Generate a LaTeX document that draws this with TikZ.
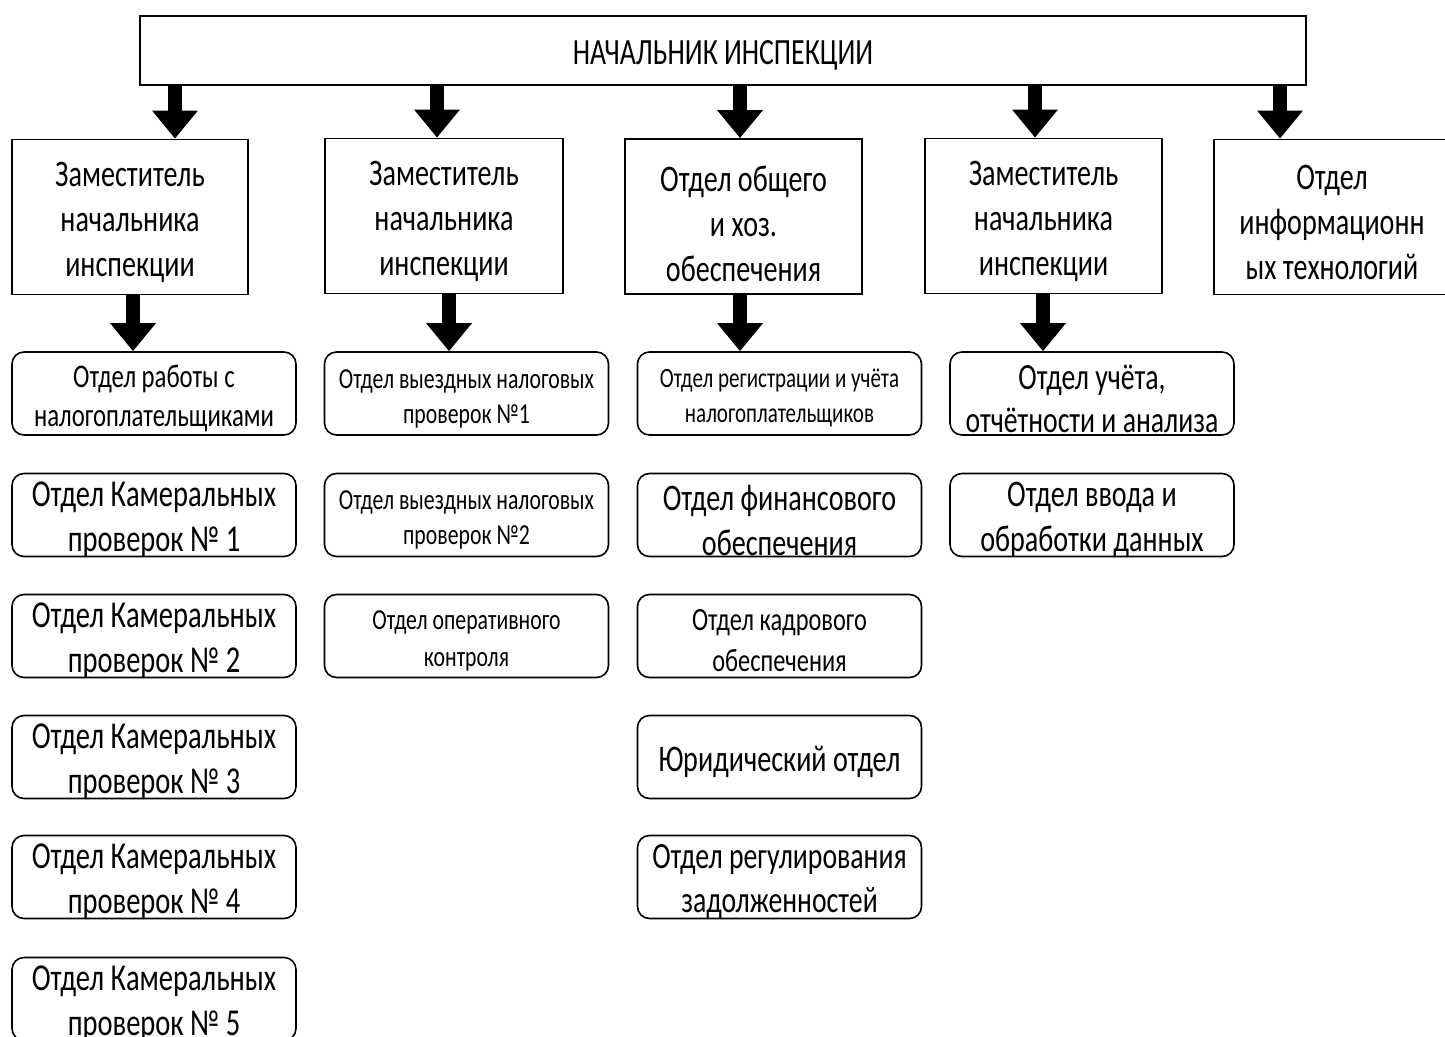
\documentclass[tikz,border=0pt]{standalone}
\usepackage{fontspec}
\setmainfont[FakeStretch=0.75]{Carlito}
\usetikzlibrary{arrows.meta}
\newcommand\fsz[2]{\fontsize{#1}{#2}\selectfont}
\begin{document}
\begin{tikzpicture}[x=1pt,y=-1pt,
  sq/.style={draw, line width=1.8pt, rectangle, inner sep=0pt, minimum width=237pt, minimum height=155pt},
  rbox/.style={draw, line width=1.6pt, rounded corners=12pt, inner sep=0pt, minimum width=284pt, minimum height=83pt},
  txt/.style={align=center, inner sep=0pt, yshift=-5pt},
  bigarrow/.style={line width=14pt, -{Triangle[width=44pt,length=28pt]}},
]
\useasboundingbox (0,0) rectangle (1445,1036);
\clip (0,0) rectangle (1445,1036);

% top
\node[draw, line width=1.8pt, minimum width=1166pt, minimum height=69pt, inner sep=0pt] (top) at (723,50.5) {};
\node[txt, font=\fsz{37}{45}] (toptxt) at (723,50) {НАЧАЛЬНИК ИНСПЕКЦИИ};

% row 2
\node[sq, minimum width=236pt] (b1) at (130,217) {};
\node[sq, minimum width=238pt] (b2) at (444,216) {};
\node[sq] (b3) at (743.5,216.5) {};
\node[sq] (b4) at (1043.5,216) {};
\node[sq, minimum width=236pt] (b5) at (1332,217) {};

\node[txt, font=\fsz{37.5}{45}] (t1) at (b1.center) {Заместитель\\начальника\\инспекции};
\node[txt, font=\fsz{37.5}{45}] (t2) at (b2.center) {Заместитель\\начальника\\инспекции};
\node[txt, font=\fsz{37.5}{45}, yshift=-2pt] (t3) at (b3.center) {Отдел общего\\и хоз.\\обеспечения};
\node[txt, font=\fsz{37.5}{45}] (t4) at (b4.center) {Заместитель\\начальника\\инспекции};
\node[txt, font=\fsz{37.5}{45}] (t5) at (b5.center) {Отдел\\информационн\\ых технологий};

% row 3 boxes
\node[rbox] (a1) at (154,393.5) {};
\node[rbox] (a2) at (154,515) {};
\node[rbox] (a3) at (154,636) {};
\node[rbox] (a4) at (154,757) {};
\node[rbox] (a5) at (154,877) {};
\node[rbox] (a6) at (154,999) {};

\node[rbox] (c1) at (466.5,393.5) {};
\node[rbox] (c2) at (466.5,515) {};
\node[rbox] (c3) at (466.5,636) {};

\node[rbox] (d1) at (779.5,393.5) {};
\node[rbox] (d2) at (779.5,515) {};
\node[rbox] (d3) at (779.5,636) {};
\node[rbox] (d4) at (779.5,757) {};
\node[rbox] (d5) at (779.5,877) {};

\node[rbox] (e1) at (1092,393.5) {};
\node[rbox] (e2) at (1092,515) {};

% row 3 texts
\node[txt, font=\fsz{33}{39}] (ta1) at (a1.center) {Отдел работы с\\налогоплательщиками};
\node[txt, font=\fsz{38}{45}] (ta2) at (a2.center) {Отдел Камеральных\\проверок № 1};
\node[txt, font=\fsz{38}{45}] (ta3) at (a3.center) {Отдел Камеральных\\проверок № 2};
\node[txt, font=\fsz{38}{45}] (ta4) at (a4.center) {Отдел Камеральных\\проверок № 3};
\node[txt, font=\fsz{38}{45}] (ta5) at (a5.center) {Отдел Камеральных\\проверок № 4};
\node[txt, font=\fsz{38}{45}] (ta6) at (a6.center) {Отдел Камеральных\\проверок № 5};

\node[txt, font=\fsz{29}{35}] (tc1) at (c1.center) {Отдел выездных налоговых\\проверок №1};
\node[txt, font=\fsz{29}{35}] (tc2) at (c2.center) {Отдел выездных налоговых\\проверок №2};
\node[txt, font=\fsz{29}{37}] (tc3) at (c3.center) {Отдел оперативного\\контроля};

\node[txt, font=\fsz{28}{35}] (td1) at (d1.center) {Отдел регистрации и учёта\\налогоплательщиков};
\node[txt, font=\fsz{37.5}{45}] (td2) at (d2.center) {Отдел финансового\\обеспечения};
\node[txt, font=\fsz{32.5}{41}] (td3) at (d3.center) {Отдел кадрового\\обеспечения};
\node[txt, font=\fsz{37.5}{45}] (td4) at (d4.center) {Юридический отдел};
\node[txt, font=\fsz{37}{44}] (td5) at (d5.center) {Отдел регулирования\\задолженностей};

\node[txt, font=\fsz{37}{43}] (te1) at (e1.center) {Отдел учёта,\\отчётности и анализа};
\node[txt, font=\fsz{37.5}{45}] (te2) at (e2.center) {Отдел ввода и\\обработки данных};

% arrow x positions
\coordinate (x1) at (175,0);
\coordinate (x2) at (437,0);
\coordinate (x3) at (740,0);
\coordinate (x4) at (1035,0);
\coordinate (x5) at (1280,0);
\coordinate (y1) at (133,0);
\coordinate (y2) at (449,0);
\coordinate (y3) at (740,0);
\coordinate (y4) at (1043,0);

\draw[bigarrow] (top.south -| x1) -- (b1.north -| x1);
\draw[bigarrow] (top.south -| x2) -- (b2.north -| x2);
\draw[bigarrow] (top.south -| x3) -- (b3.north -| x3);
\draw[bigarrow] (top.south -| x4) -- (b4.north -| x4);
\draw[bigarrow] (top.south -| x5) -- (b5.north -| x5);

\draw[bigarrow] (b1.south -| y1) -- (a1.north -| y1);
\draw[bigarrow] (b2.south -| y2) -- (c1.north -| y2);
\draw[bigarrow] (b3.south -| y3) -- (d1.north -| y3);
\draw[bigarrow] (b4.south -| y4) -- (e1.north -| y4);
\end{tikzpicture}
\end{document}
